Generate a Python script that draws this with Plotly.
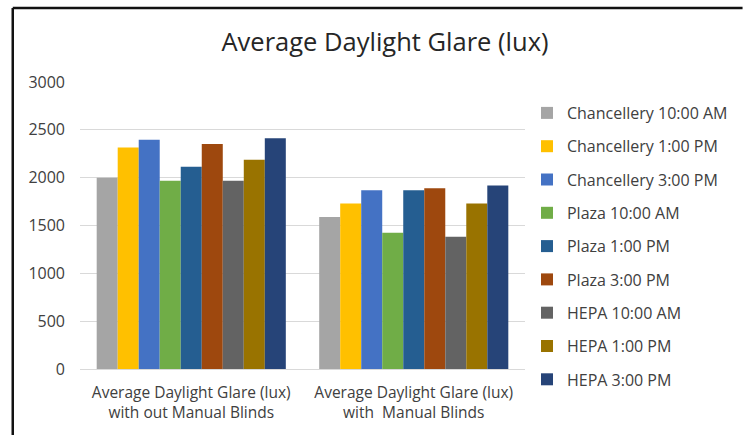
import plotly.graph_objects as go

# Categories on the x axis (two-line labels)
categories = [
    "Average Daylight Glare (lux)<br>with out Manual Blinds",
    "Average Daylight Glare (lux)<br>with  Manual Blinds",
]

# Series: location + time of day
series_names = [
    "Chancellery 10:00 AM",
    "Chancellery 1:00 PM",
    "Chancellery 3:00 PM",
    "Plaza 10:00 AM",
    "Plaza 1:00 PM",
    "Plaza 3:00 PM",
    "HEPA 10:00 AM",
    "HEPA 1:00 PM",
    "HEPA 3:00 PM",
]

# Glare values (lux): [without blinds, with blinds]
chancellery_10am = [2000, 1590]
chancellery_1pm = [2316, 1729]
chancellery_3pm = [2396, 1868]
plaza_10am = [1969, 1424]
plaza_1pm = [2115, 1868]
plaza_3pm = [2351, 1889]
hepa_10am = [1969, 1382]
hepa_1pm = [2187, 1729]
hepa_3pm = [2413, 1917]

series_values = [
    chancellery_10am, chancellery_1pm, chancellery_3pm,
    plaza_10am, plaza_1pm, plaza_3pm,
    hepa_10am, hepa_1pm, hepa_3pm,
]

colors = [
    "#A5A5A5", "#FFC000", "#4472C4",
    "#70AD47", "#255E91", "#9E480E",
    "#636363", "#997300", "#264478",
]

y_ticks = [0, 500, 1000, 1500, 2000, 2500, 3000]

fig = go.Figure()
for i, (name, vals, col) in enumerate(zip(series_names, series_values, colors)):
    fig.add_trace(go.Bar(
        x=categories, y=vals, name=name,
        marker=dict(color=col, line=dict(width=0)),
        legendgroup=f"g{i}",
    ))

# Plot-area pixel geometry (for the outer frame drawn in paper coords)
W, H = 745, 435
left, right, top, bottom = 80, 530, 82, 369
pw, ph = right - left, bottom - top

def px_x(p):
    return (p - left) / pw

def px_y(p):
    return (bottom - p) / ph

fig.update_layout(
    width=W, height=H,
    margin=dict(l=left, r=W - right, t=top, b=H - bottom, pad=0),
    paper_bgcolor="white", plot_bgcolor="white",
    barmode="group", bargap=0.15, bargroupgap=0,
    font=dict(family="Open Sans, Calibri, sans-serif", color="#404040", size=16),
    title=dict(
        text="Average Daylight Glare (lux)",
        x=385 / W, xanchor="center",
        y=1 - 42 / H, yanchor="middle",
        font=dict(size=25.5, color="#262626"),
    ),
    xaxis=dict(
        showgrid=False, showline=False, ticks="",
        ticklabelstandoff=12,
        tickfont=dict(size=15.5, color="#404040"),
    ),
    yaxis=dict(
        range=[0, 3000], tickvals=y_ticks,
        showgrid=True, gridcolor="#D9D9D9", gridwidth=1,
        zeroline=True, zerolinecolor="#D9D9D9", zerolinewidth=1,
        showline=False, ticks="", ticklabelstandoff=14,
        tickfont=dict(size=16, color="#404040"),
    ),
    legend=dict(
        x=px_x(532), xanchor="left",
        y=px_y(96), yanchor="top",
        font=dict(size=16, color="#404040"),
        tracegroupgap=9.5,
        itemwidth=30,
        maxheight=400,
        bgcolor="rgba(0,0,0,0)",
    ),
    shapes=[
        # outer frame: top and left edges
        dict(type="line", xref="paper", yref="paper",
             x0=px_x(12), x1=px_x(750), y0=px_y(8), y1=px_y(8),
             line=dict(color="#111111", width=2.5)),
        dict(type="line", xref="paper", yref="paper",
             x0=px_x(12), x1=px_x(12), y0=px_y(8), y1=px_y(440),
             line=dict(color="#111111", width=2.5)),
    ],
)

fig.write_html("out.html")
